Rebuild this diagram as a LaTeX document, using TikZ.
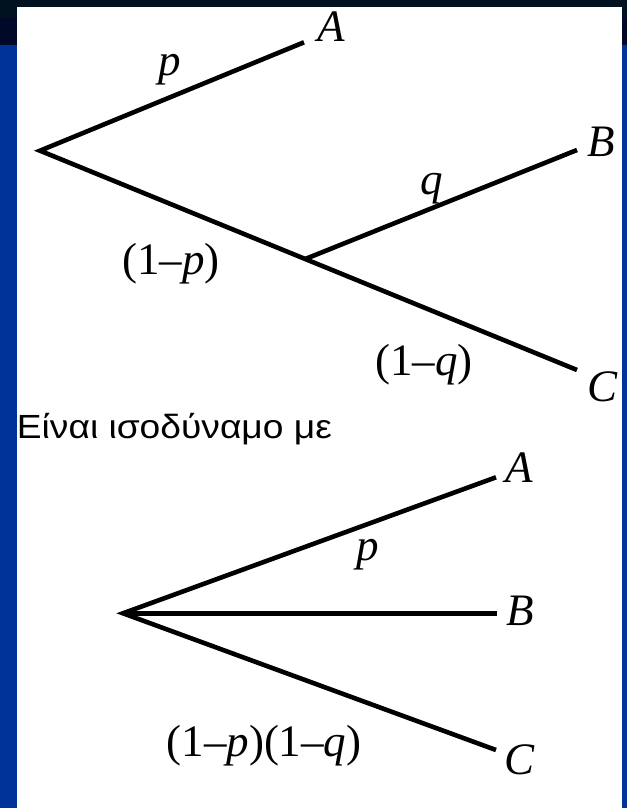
\documentclass[tikz,border=0pt]{standalone}
\usepackage{fontspec}
\setmainfont{Liberation Serif}
\newfontfamily\grfont{Liberation Sans}
\definecolor{slideblue}{RGB}{0,51,153}
\definecolor{topnavy}{RGB}{0,9,40}
\definecolor{topdark}{RGB}{0,17,31}
\begin{document}
\begin{tikzpicture}[x=1pt,y=-1pt,
  branch/.style={line width=4.6pt, line join=miter, draw=black},
  lbl/.style={anchor=base, inner sep=0pt, font=\fontsize{45}{52}\selectfont}]
\useasboundingbox (0,0) rectangle (627,808);
% slide background
\fill[slideblue] (0,0) rectangle (627,808);
\fill[topdark] (0,0) rectangle (627,18);
\fill[topnavy] (0,18) rectangle (627,45);
\fill[white] (16.7,7) rectangle (622,808);
% top tree
\coordinate (r1) at (40,150.7);
\coordinate (a1) at (304,42.3);
\coordinate (m1) at (305,259.1);
\coordinate (b1) at (577,150);
\coordinate (c1) at (577,370);
\draw[branch] (a1) -- (r1) -- (c1);
\draw[branch] (m1) -- (b1);
\node[lbl] (A1) at (331,42) {\textit{A}};
\node[lbl] (B1) at (601,156) {\textit{B}};
\node[lbl] (C1) at (603,401.5) {\textit{C}};
\node[lbl] (p1) at (170,75) {\textit{p}};
\node[lbl] (q1) at (432,194) {\textit{q}};
\node[lbl] (np1) at (171,274) {(1–\textit{p})};
\node[lbl] (nq1) at (424,375.7) {(1–\textit{q})};
% text
\node[anchor=base west, inner sep=0pt] (txt) at (16.7,438)
  {\resizebox{315pt}{\height}{\grfont\fontsize{33.5}{40}\selectfont Είναι ισοδύναμο με}};
% bottom tree
\coordinate (r2) at (123,613.3);
\coordinate (a2) at (496,477.3);
\coordinate (b2) at (496.7,613.3);
\coordinate (c2) at (496,750);
\draw[branch] (a2) -- (r2) -- (c2);
\draw[branch] (r2) -- (b2);
\node[lbl] (A2) at (519,482) {\textit{A}};
\node[lbl] (B2) at (520,625) {\textit{B}};
\node[lbl] (C2) at (520,774) {\textit{C}};
\node[lbl] (p2) at (367.5,560) {\textit{p}};
\node[lbl] (pq2) at (264,756) {(1–\textit{p})(1–\textit{q})};
\end{tikzpicture}
\end{document}
